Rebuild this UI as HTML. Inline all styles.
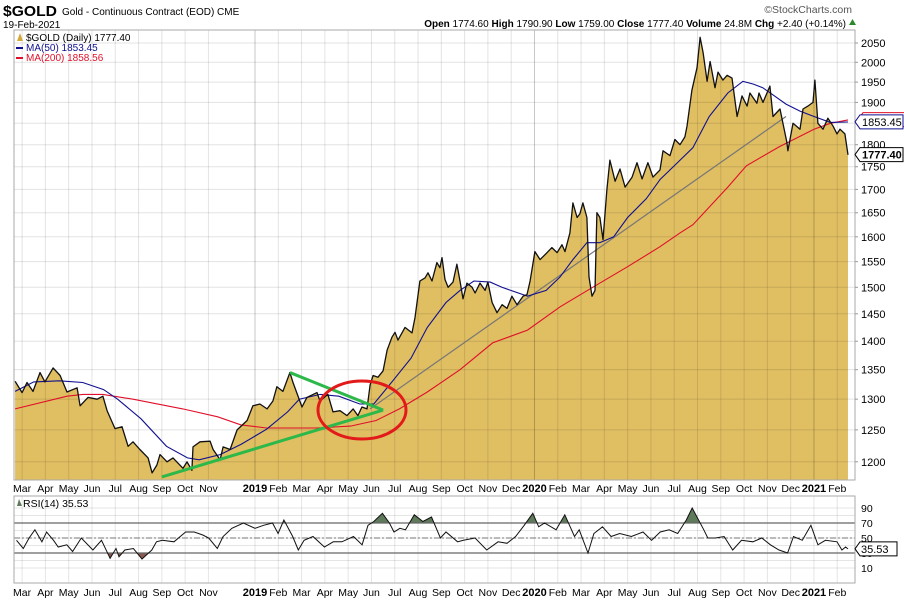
<!DOCTYPE html>
<html><head><meta charset="utf-8"><style>
body{margin:0;background:#fff;}
svg{display:block;font-family:"Liberation Sans",sans-serif;}
</style></head><body>
<svg id="c" width="904" height="602" viewBox="0 0 904 602" xmlns="http://www.w3.org/2000/svg">
<g>
<text x="3" y="16" font-size="15" font-weight="bold" textLength="54" lengthAdjust="spacingAndGlyphs">$GOLD</text>
<text x="62" y="15" font-size="10">Gold - Continuous Contract (EOD) CME</text>
<text x="3" y="28" font-size="10">19-Feb-2021</text>
<text x="852" y="13" font-size="10.5" fill="#555" text-anchor="end">©StockCharts.com</text>
<text x="846" y="27" font-size="10" text-anchor="end"><tspan font-weight="bold">Open</tspan> 1774.60 <tspan font-weight="bold">High</tspan> 1790.90 <tspan font-weight="bold">Low</tspan> 1759.00 <tspan font-weight="bold">Close</tspan> 1777.40 <tspan font-weight="bold">Volume</tspan> 24.8M <tspan font-weight="bold">Chg</tspan> +2.40 (+0.14%)</text>
<path d="M849 25 L852.5 19 L856 25 Z" fill="#2a8a2a"/>
</g>
<defs>
<clipPath id="mainClip"><rect x="14" y="30" width="841" height="450"/></clipPath>
<clipPath id="rsiClip"><rect x="14" y="496" width="841" height="87"/></clipPath>
<clipPath id="above70"><rect x="14" y="496" width="841" height="27"/></clipPath>
<clipPath id="below30"><rect x="14" y="553" width="841" height="30"/></clipPath>
</defs>
<g id="main"></g>
<g id="rsi"></g>
</svg>
<script>
const priceDates=[1.70,2.00,2.21,2.47,2.77,2.98,3.33,3.63,3.93,4.36,4.49,4.83,5.22,5.47,5.65,5.99,6.29,6.55,6.76,7.06,7.41,7.58,7.79,7.92,8.22,8.48,8.91,9.08,9.29,9.34,9.64,10.07,10.20,10.50,10.63,10.93,11.23,11.66,11.91,12.21,12.52,12.77,12.94,13.20,13.50,13.63,14.02,14.23,14.66,14.79,15.13,15.35,15.65,15.95,16.21,16.42,16.59,16.81,16.94,17.07,17.28,17.50,17.67,17.88,18.01,18.14,18.44,18.74,18.87,19.08,19.30,19.43,19.60,19.81,19.94,20.03,20.16,20.29,20.50,20.67,20.80,20.93,21.10,21.32,21.45,21.66,21.88,22.00,22.18,22.39,22.61,22.82,23.03,23.25,23.51,23.68,23.81,24.02,24.24,24.54,24.75,24.97,25.18,25.31,25.52,25.65,25.83,25.95,26.08,26.25,26.34,26.47,26.60,26.68,26.81,26.94,27.11,27.24,27.46,27.67,27.89,28.19,28.40,28.62,28.87,29.09,29.39,29.52,29.82,30.03,30.25,30.46,30.55,30.76,30.98,31.11,31.24,31.41,31.54,31.75,31.88,32.09,32.27,32.48,32.70,32.91,33.13,33.25,33.55,33.64,33.81,34.11,34.24,34.54,34.84,34.88,35.10,35.40,35.53,35.74,35.96,36.04,36.17,36.39,36.60,36.82,36.99,37.12,37.33,37.46];
const priceValues=[1330,1311,1328,1313,1345,1329,1353,1340,1312,1319,1289,1303,1300,1305,1281,1252,1255,1224,1231,1219,1206,1183,1195,1211,1200,1206,1190,1200,1187,1223,1231,1232,1219,1203,1223,1219,1250,1265,1289,1292,1284,1297,1321,1313,1345,1328,1287,1303,1311,1297,1308,1279,1281,1273,1284,1273,1287,1284,1324,1340,1337,1348,1384,1407,1416,1402,1425,1415,1443,1512,1518,1528,1512,1548,1538,1558,1515,1500,1510,1545,1512,1478,1508,1500,1489,1508,1494,1510,1471,1452,1467,1460,1483,1467,1483,1486,1512,1570,1554,1568,1578,1568,1584,1570,1608,1671,1640,1648,1671,1640,1520,1483,1494,1650,1640,1594,1700,1765,1718,1745,1705,1727,1759,1723,1759,1727,1743,1786,1775,1812,1800,1818,1843,1930,1986,2065,2025,1952,2002,1936,1975,1955,1967,1960,1866,1916,1891,1923,1898,1923,1900,1940,1866,1884,1805,1786,1850,1836,1884,1891,1900,1955,1850,1836,1862,1843,1825,1836,1825,1777];
const ma50Dates=[1.7,2.5,3.6,4.6,5.5,6.1,7.1,8.2,9.1,9.6,10.5,11.4,12.5,13.4,13.9,14.8,15.6,16.5,17.1,17.9,18.7,19.4,20.2,20.8,21.4,22.1,22.6,23.7,24.5,25.1,25.65,26.25,26.8,27.4,28.0,28.8,29.4,30.1,30.8,31.5,32.3,32.95,33.4,33.8,34.2,34.8,35.4,36.0,36.7,37.46];
const ma50Values=[1313,1329,1331,1328,1316,1300,1268,1224,1206,1203,1211,1227,1251,1279,1300,1308,1305,1292,1292,1330,1370,1425,1471,1494,1512,1510,1500,1483,1494,1520,1554,1588,1588,1600,1640,1680,1722,1757,1793,1866,1923,1952,1945,1936,1920,1896,1879,1866,1852,1853];
const ma200Dates=[1.7,3.93,4.6,5.47,6.76,8.9,10.4,11.4,12.5,14.66,16.1,17.2,18.2,19.4,20.8,22.2,23.7,25.1,26.5,28.0,29.4,30.25,30.8,32.3,33.1,34.5,36.0,36.7,37.46];
const ma200Values=[1284,1305,1308,1308,1300,1284,1271,1258,1253,1253,1256,1265,1284,1312,1350,1397,1420,1463,1500,1540,1580,1608,1625,1705,1752,1795,1836,1850,1858];
const rsiDates=[1.76,2.05,2.30,2.55,2.85,3.05,3.35,3.55,3.92,4.17,4.54,5.04,5.41,5.78,6.03,6.16,6.41,6.78,7.15,7.57,7.77,8.02,8.52,9.02,9.39,9.76,10.01,10.38,10.63,11.01,11.50,12.00,12.37,12.75,12.99,13.24,13.62,13.86,14.11,14.49,14.98,15.36,15.73,16.23,16.60,16.85,17.10,17.47,17.77,17.97,18.22,18.46,18.84,19.21,19.58,19.96,20.20,20.70,20.95,21.45,21.95,22.44,22.82,23.19,23.56,23.93,24.18,24.43,24.93,25.30,25.72,25.92,26.30,26.55,26.92,27.29,27.66,28.16,28.66,29.03,29.40,29.78,30.15,30.52,30.77,31.27,31.44,31.77,32.14,32.51,32.89,33.38,33.76,34.13,34.50,34.87,35.12,35.50,35.87,36.17,36.49,36.99,37.20,37.36,37.46];
const rsiValues=[47,36,50,61,45,58,47,38,41,32,50,34,47,23,36,25,34,36,22,34,45,47,45,58,58,54,50,36,52,63,70,63,67,70,56,74,52,34,47,52,38,45,45,52,41,67,72,83,70,58,63,61,81,72,78,50,58,45,47,50,34,45,43,52,67,83,65,70,61,81,52,61,30,56,65,52,56,52,58,47,58,61,56,74,90,61,50,50,52,34,47,45,50,41,34,30,52,47,67,41,47,45,34,38,35.5];
const priceTicks=[1200,1250,1300,1350,1400,1450,1500,1550,1600,1650,1700,1750,1800,1900,1950,2000,2050];
const gridPrices=[1200,1250,1300,1350,1400,1450,1500,1550,1600,1650,1700,1750,1800,1850,1900,1950,2000,2050];
const rsiTicks=[10,30,50,70,90];
const monthLabels=["Mar","Apr","May","Jun","Jul","Aug","Sep","Oct","Nov","2019","Feb","Mar","Apr","May","Jun","Jul","Aug","Sep","Oct","Nov","Dec","2020","Feb","Mar","Apr","May","Jun","Jul","Aug","Sep","Oct","Nov","Dec","2021","Feb"];
const monthPositions=[2,3,4,5,6,7,8,9,10,12,13,14,15,16,17,18,19,20,21,22,23,24,25,26,27,28,29,30,31,32,33,34,35,36,37];
const trendStart=[16.94,1284], trendEnd=[34.8,1866];
const greenLow=[8.0,1177], greenApex=[17.5,1282], greenHigh=[13.5,1345];

const NS="http://www.w3.org/2000/svg";
const X0=14,X1=855,PT=30,PB=480,RT=496,RB=583;
function xm(m){return 255+(m-12)*23.29;}
function yp(v){return 43+782*Math.log(2050/v);}
function yr(r){return 538-(r-50)*0.75;}
function mk(parent,tag,attrs){const e=document.createElementNS(NS,tag);for(const k in attrs)e.setAttribute(k,attrs[k]);parent.appendChild(e);return e;}
const main=document.getElementById('main'), rsi=document.getElementById('rsi');

let bg=mk(main,'rect',{x:X0,y:PT,width:X1-X0,height:PB-PT,fill:'#fff'});


const mg=mk(main,'g',{'clip-path':'url(#mainClip)'});
let pts=priceDates.map((d,i)=>xm(d).toFixed(1)+','+yp(priceValues[i]).toFixed(1));
let area=mk(mg,'polygon',{points:xm(priceDates[0])+','+PB+' '+pts.join(' ')+' '+xm(priceDates[priceDates.length-1])+','+PB,fill:'#e0be62'});


gridPrices.forEach(v=>{let l=mk(mg,'line',{x1:X0,x2:X1,y1:yp(v),y2:yp(v),stroke:'rgba(0,0,0,0.11)','stroke-width':1});

});
monthPositions.forEach((m,i)=>{let l=mk(mg,'line',{x1:xm(m),x2:xm(m),y1:PT,y2:PB,stroke:monthLabels[i].length==4?'rgba(0,0,0,0.22)':'rgba(0,0,0,0.11)','stroke-width':1});

});
let tl=mk(mg,'line',{x1:xm(trendStart[0]),y1:yp(trendStart[1]),x2:xm(trendEnd[0]),y2:yp(trendEnd[1]),stroke:'#777','stroke-width':1.2});


let m200=mk(mg,'polyline',{points:ma200Dates.map((d,i)=>xm(d).toFixed(1)+','+yp(ma200Values[i]).toFixed(1)).join(' '),fill:'none',stroke:'#e0102a','stroke-width':1.1});


let m50=mk(mg,'polyline',{points:ma50Dates.map((d,i)=>xm(d).toFixed(1)+','+yp(ma50Values[i]).toFixed(1)).join(' '),fill:'none',stroke:'#101090','stroke-width':1.1});


let pl=mk(mg,'polyline',{points:pts.join(' '),fill:'none',stroke:'#111','stroke-width':1.3,'stroke-linejoin':'round'});


let g1=mk(mg,'line',{x1:xm(greenLow[0]),y1:yp(greenLow[1]),x2:xm(greenApex[0]),y2:yp(greenApex[1]),stroke:'#2db84a','stroke-width':3});


let g2=mk(mg,'line',{x1:xm(greenHigh[0]),y1:yp(greenHigh[1]),x2:xm(greenApex[0]),y2:yp(greenApex[1]),stroke:'#2db84a','stroke-width':3});


let el=mk(mg,'ellipse',{cx:362,cy:410,rx:44,ry:29,fill:'none',stroke:'#e21a1a','stroke-width':3});


let fr=mk(main,'rect',{x:X0,y:PT,width:X1-X0,height:PB-PT,fill:'none',stroke:'#aaa'});


const lg=mk(main,'g',{'font-size':'10'});


mk(lg,'path',{d:'M17 41 L20 33 L23 41 Z',fill:'#d4a93c'});
let t1=mk(lg,'text',{x:26,y:41});t1.textContent='$GOLD (Daily) 1777.40';


mk(lg,'rect',{x:16,y:47,width:7,height:2,fill:'#101090'});
let t2=mk(lg,'text',{x:26,y:51,fill:'#101090'});t2.textContent='MA(50) 1853.45';


mk(lg,'rect',{x:16,y:57,width:7,height:2,fill:'#e0102a'});
let t3=mk(lg,'text',{x:26,y:61,fill:'#e0102a'});t3.textContent='MA(200) 1858.56';


priceTicks.forEach(v=>{let t=mk(main,'text',{x:861,y:yp(v)+4,'font-size':'11'});t.textContent=v;


mk(main,'line',{x1:X1,x2:X1+3,y1:yp(v),y2:yp(v),stroke:'#999'});});
function tag(v,txt,col,bold,dx,name){const g=mk(main,'g',{});


const y=yp(v);mk(g,'path',{d:`M${X1+dx} ${y} L${X1+dx+5} ${y-7} H${X1+dx+48} V${y+7} H${X1+dx+5} Z`,fill:'#fff',stroke:col});
const t=mk(g,'text',{x:X1+dx+7,y:y+4,'font-size':'11','font-weight':bold?'bold':'normal'});t.textContent=txt;}
tag(1858.56,'','#e0102a',false,3,'ma200-value-tag');
tag(1853.45,'1853.45','#101090',false,0,'ma50-value-tag');
tag(1777.4,'1777.40','#000',true,0,'last-price-tag');
function monthAxis(y,name){monthPositions.forEach((m,i)=>{const yr4=monthLabels[i].length==4;
let t=mk(document.getElementById('c'),'text',{x:xm(m),y:y,'font-size':yr4?'11':'10.5','font-weight':yr4?'bold':'normal','text-anchor':'middle'});
t.textContent=monthLabels[i];

});}
monthAxis(492,'x-tick-label');
monthAxis(596,'rsi-x-tick-label');

let rb=mk(rsi,'rect',{x:X0,y:RT,width:X1-X0,height:RB-RT,fill:'#fff'});


const rg=mk(rsi,'g',{'clip-path':'url(#rsiClip)'});
for(let r=10;r<=90;r+=10){mk(rg,'line',{x1:X0,x2:X1,y1:yr(r),y2:yr(r),stroke:'rgba(0,0,0,0.1)'});}
monthPositions.forEach(m=>{mk(rg,'line',{x1:xm(m),x2:xm(m),y1:RT,y2:RB,stroke:'rgba(0,0,0,0.1)'});});
const rpts=rsiDates.map((d,i)=>xm(d).toFixed(1)+','+yr(rsiValues[i]).toFixed(1));
const xa=xm(rsiDates[0]),xb=xm(rsiDates[rsiDates.length-1]);
let ob=mk(rg,'polygon',{points:xa+','+yr(70)+' '+rpts.join(' ')+' '+xb+','+yr(70),fill:'#5e7a5a','clip-path':'url(#above70)'});


let os=mk(rg,'polygon',{points:xa+','+yr(30)+' '+rpts.join(' ')+' '+xb+','+yr(30),fill:'#8a5a50','clip-path':'url(#below30)'});


mk(rg,'line',{x1:X0,x2:X1,y1:yr(70),y2:yr(70),stroke:'#666','stroke-width':1.3});
mk(rg,'line',{x1:X0,x2:X1,y1:yr(30),y2:yr(30),stroke:'#666','stroke-width':1.3});
mk(rg,'line',{x1:X0,x2:X1,y1:yr(50),y2:yr(50),stroke:'#777','stroke-dasharray':'6,2,2,2'});
let rl=mk(rg,'polyline',{points:rpts.join(' '),fill:'none',stroke:'#111','stroke-width':1});


let rf=mk(rsi,'rect',{x:X0,y:RT,width:X1-X0,height:RB-RT,fill:'none',stroke:'#aaa'});


mk(rsi,'path',{d:'M17 506 L19 499 L22 506 Z',fill:'#5e7a5a'});
let rt=mk(rsi,'text',{x:23,y:507,'font-size':'10.5'});rt.textContent='RSI(14) 35.53';


rsiTicks.forEach(r=>{let t=mk(rsi,'text',{x:861,y:yr(r)+4,'font-size':'10.5'});t.textContent=r;

});
const ry=yr(35.53);
let rtag=mk(rsi,'g',{});


mk(rtag,'path',{d:`M${X1} ${ry} L${X1+5} ${ry-7} H${X1+42} V${ry+7} H${X1+5} Z`,fill:'#fff',stroke:'#000'});
let rtt=mk(rtag,'text',{x:X1+6,y:ry+4,'font-size':'11'});rtt.textContent='35.53';
</script>
</body></html>
